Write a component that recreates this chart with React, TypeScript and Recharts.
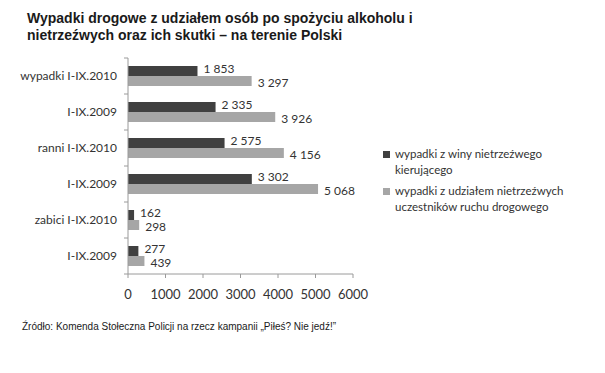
import { BarChart, Bar, XAxis, YAxis, LabelList } from 'recharts'

const categories = ['wypadki I-IX.2010', 'I-IX.2009', 'ranni I-IX.2010', 'I-IX.2009', 'zabici I-IX.2010', 'I-IX.2009']
const drunkDriver = [1853, 2335, 2575, 3302, 162, 277]
const drunkParticipants = [3297, 3926, 4156, 5068, 298, 439]
const xTicks = [0, 1000, 2000, 3000, 4000, 5000, 6000]

const seriesNames = ['wypadki z winy nietrzeźwego kierującego', 'wypadki z udziałem nietrzeźwych uczestników ruchu drogowego']
const DARK = '#404040'
const LIGHT = '#a6a6a6'
const AXIS = '#9a9a9a'
const FONT = 'Lato, "DejaVu Sans", sans-serif'

const W = 605
const H = 373
const margin = { top: 58, right: 252, bottom: 69, left: 0 }
const Y_AXIS_W = 128
const X_AXIS_H = 30
const PLOT_H = H - margin.top - margin.bottom - X_AXIS_H
const BAND = PLOT_H / categories.length

const data = categories.map((label, i) => ({
  label,
  driver: drunkDriver[i],
  participants: drunkParticipants[i],
}))

const fmt = (v: unknown) => String(v).replace(/\B(?=(\d{3})+(?!\d))/g, ' ')

// value label drawn right of the bar end, nudged up or down a little
function ValueLabel(shift: number) {
  return (props: any) => {
    const { x, y, width, height, value } = props
    return (
      <text
        x={x + width + 6}
        y={y + height / 2 + shift}
        dy="0.35em"
        fontSize={12}
        fill="#333"
        fontFamily={FONT}
      >
        {fmt(value)}
      </text>
    )
  }
}

function CatTick(props: any) {
  const { y, payload, index } = props
  const axisX = margin.left + Y_AXIS_W
  return (
    <g>
      <text x={axisX - 11} y={y} dy="0.35em" textAnchor="end" fontSize={12} fill="#333" fontFamily={FONT}>
        {payload.value}
      </text>
      <line x1={axisX - 4} x2={axisX} y1={y - BAND / 2} y2={y - BAND / 2} stroke={AXIS} />
      {index === categories.length - 1 && (
        <line x1={axisX - 4} x2={axisX} y1={y + BAND / 2} y2={y + BAND / 2} stroke={AXIS} />
      )}
    </g>
  )
}

export default function App() {
  return (
    <div style={{ position: 'absolute', left: 0, top: 0, width: W, height: H, background: '#fff', overflow: 'hidden' }}>
      <div
        style={{
          position: 'absolute',
          left: 27,
          top: 10,
          fontFamily: '"Liberation Sans", Arial, sans-serif',
          fontWeight: 'bold',
          fontSize: 14,
          lineHeight: '17px',
          color: '#1a1a1a',
        }}
      >
        Wypadki drogowe z udziałem osób po spożyciu alkoholu i
        <br />
        nietrzeźwych oraz ich skutki – na terenie Polski
      </div>

      <div style={{ position: 'absolute', left: 0, top: 0 }}>
        <BarChart width={W} height={H} data={data} layout="vertical" margin={margin} barGap={0} barSize={10}>
          <XAxis
            type="number"
            domain={[0, 6000]}
            ticks={xTicks}
            height={X_AXIS_H}
            stroke={AXIS}
            tickSize={4}
            tickMargin={12}
            tick={{ fontSize: 13, fill: '#333', fontFamily: FONT }}
          />
          <YAxis
            type="category"
            dataKey="label"
            width={Y_AXIS_W}
            stroke={AXIS}
            tickLine={false}
            tick={<CatTick />}
            interval={0}
          />
          <Bar dataKey="driver" fill={DARK} isAnimationActive={false}>
            <LabelList dataKey="driver" content={ValueLabel(-2)} />
          </Bar>
          <Bar dataKey="participants" fill={LIGHT} isAnimationActive={false}>
            <LabelList dataKey="participants" content={ValueLabel(2)} />
          </Bar>
        </BarChart>
      </div>

      <div style={{ position: 'absolute', left: 383, top: 146, fontFamily: FONT, fontSize: 11.5, color: '#333', lineHeight: '16px' }}>
        {seriesNames.map((name, i) => (
          <div key={name} style={{ position: 'relative', paddingLeft: 12, width: 170, marginBottom: i === 0 ? 5 : 0 }}>
            <span
              style={{
                position: 'absolute',
                left: 0,
                top: 5,
                width: 7,
                height: 7,
                background: i === 0 ? DARK : LIGHT,
              }}
            />
            {name}
          </div>
        ))}
      </div>

      <div
        style={{
          position: 'absolute',
          left: 22,
          top: 321,
          fontFamily: '"Liberation Sans", Arial, sans-serif',
          fontSize: 10,
          color: '#1a1a1a',
          whiteSpace: 'nowrap',
        }}
      >
        Źródło: Komenda Stołeczna Policji na rzecz kampanii „Piłeś? Nie jedź!”
      </div>
    </div>
  )
}
